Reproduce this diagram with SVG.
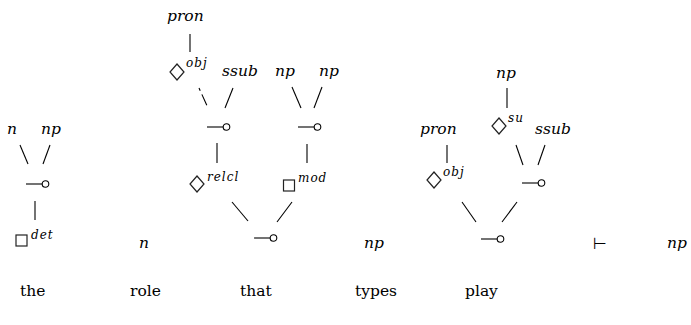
<svg xmlns="http://www.w3.org/2000/svg" width="691" height="325" viewBox="0 0 691 325">
  <style>
    text { font-family: 'DejaVu Serif', 'Liberation Serif', serif; fill: #000; }
    .m { font-style: italic; font-size: 15.5px; }
    .sup { font-style: italic; font-size: 12px; letter-spacing: 1px; }
    .w { font-size: 15.5px; }
    .sym { font-family: 'DejaVu Sans', sans-serif; font-size: 16px; }
    line { stroke: #000; stroke-width: 1.1; fill: none; }
    .mode { fill: #fff; stroke: #222; stroke-width: 1.2; }
    .link circle { fill: #fff; stroke: #000; stroke-width: 1.1; }
  </style>
  <defs>
    <!-- par link: a short bar ending in a small open circle -->
    <g id="lollipop" class="link">
      <line x1="0" y1="0" x2="16" y2="0"/>
      <circle cx="19.5" cy="0" r="3.3"/>
    </g>
    <path id="dia" class="mode" d="M0,-8 L7,0 L0,8 L-7,0 Z"/>
    <rect id="box" class="mode" x="-5.5" y="-5.5" width="11" height="11"/>
  </defs>

  <!-- the -->
  <g id="node-the">
    <text class="m" x="7" y="134">n</text>
    <text class="m" x="41" y="134">np</text>
    <use href="#lollipop" x="26" y="184"/>
    <use href="#box" x="21.5" y="240.5"/>
    <text class="sup" x="31" y="239">det</text>
  </g>

  <!-- role -->
  <g id="node-role">
    <text class="m" x="139" y="248">n</text>
  </g>

  <!-- that -->
  <g id="node-that">
    <text class="m" x="167" y="21">pron</text>
    <use href="#dia" x="177" y="72"/>
    <text class="sup" x="186" y="67">obj</text>
    <text class="m" x="222" y="76">ssub</text>
    <use href="#lollipop" x="207" y="127"/>
    <use href="#dia" x="197" y="184"/>
    <text class="sup" x="207" y="181">relcl</text>
    <use href="#lollipop" x="254" y="238"/>
    <use href="#lollipop" x="298" y="127"/>
    <text class="m" x="275" y="76">np</text>
    <text class="m" x="319" y="76">np</text>
    <use href="#box" x="289" y="185.5"/>
    <text class="sup" x="298" y="182">mod</text>
  </g>

  <!-- types -->
  <g id="node-types">
    <text class="m" x="364" y="248">np</text>
  </g>

  <!-- play -->
  <g id="node-play">
    <text class="m" x="420" y="134">pron</text>
    <use href="#dia" x="434" y="180"/>
    <text class="sup" x="443" y="176">obj</text>
    <text class="m" x="496" y="78">np</text>
    <use href="#dia" x="499" y="126"/>
    <text class="sup" x="508" y="122">su</text>
    <text class="m" x="535" y="134">ssub</text>
    <use href="#lollipop" x="522" y="183"/>
    <use href="#lollipop" x="481" y="239"/>
  </g>

  <!-- conclusion -->
  <g id="node-goal">
    <text class="sym" x="593" y="249">⊢</text>
    <text class="m" x="667" y="248">np</text>
  </g>

  <g id="words">
    <text class="w" x="20" y="296">the</text>
    <text class="w" x="130" y="296">role</text>
    <text class="w" x="240" y="296">that</text>
    <text class="w" x="355" y="296">types</text>
    <text class="w" x="465" y="296">play</text>
  </g>

  <g id="connectors">
    <!-- the -->
    <line x1="20" y1="145" x2="28" y2="164"/>
    <line x1="50" y1="145" x2="43" y2="164"/>
    <line x1="35" y1="201" x2="35" y2="220"/>
    <!-- that -->
    <line x1="190" y1="34" x2="190" y2="52"/>
    <line x1="199" y1="88" x2="208" y2="108" stroke-dasharray="3,4,12"/>
    <line x1="233" y1="88" x2="225" y2="108"/>
    <line x1="217" y1="143" x2="217" y2="163"/>
    <line x1="232" y1="202" x2="248" y2="221"/>
    <line x1="292" y1="87" x2="301" y2="108"/>
    <line x1="322" y1="87" x2="314" y2="108"/>
    <line x1="307" y1="144" x2="307" y2="163"/>
    <line x1="292" y1="202" x2="277" y2="222"/>
    <!-- play -->
    <line x1="507" y1="88" x2="507" y2="108"/>
    <line x1="447" y1="145" x2="447" y2="163"/>
    <line x1="516" y1="145" x2="523" y2="165"/>
    <line x1="545" y1="145" x2="538" y2="165"/>
    <line x1="462" y1="202" x2="476" y2="222"/>
    <line x1="517" y1="202" x2="502" y2="222"/>
  </g>
</svg>
